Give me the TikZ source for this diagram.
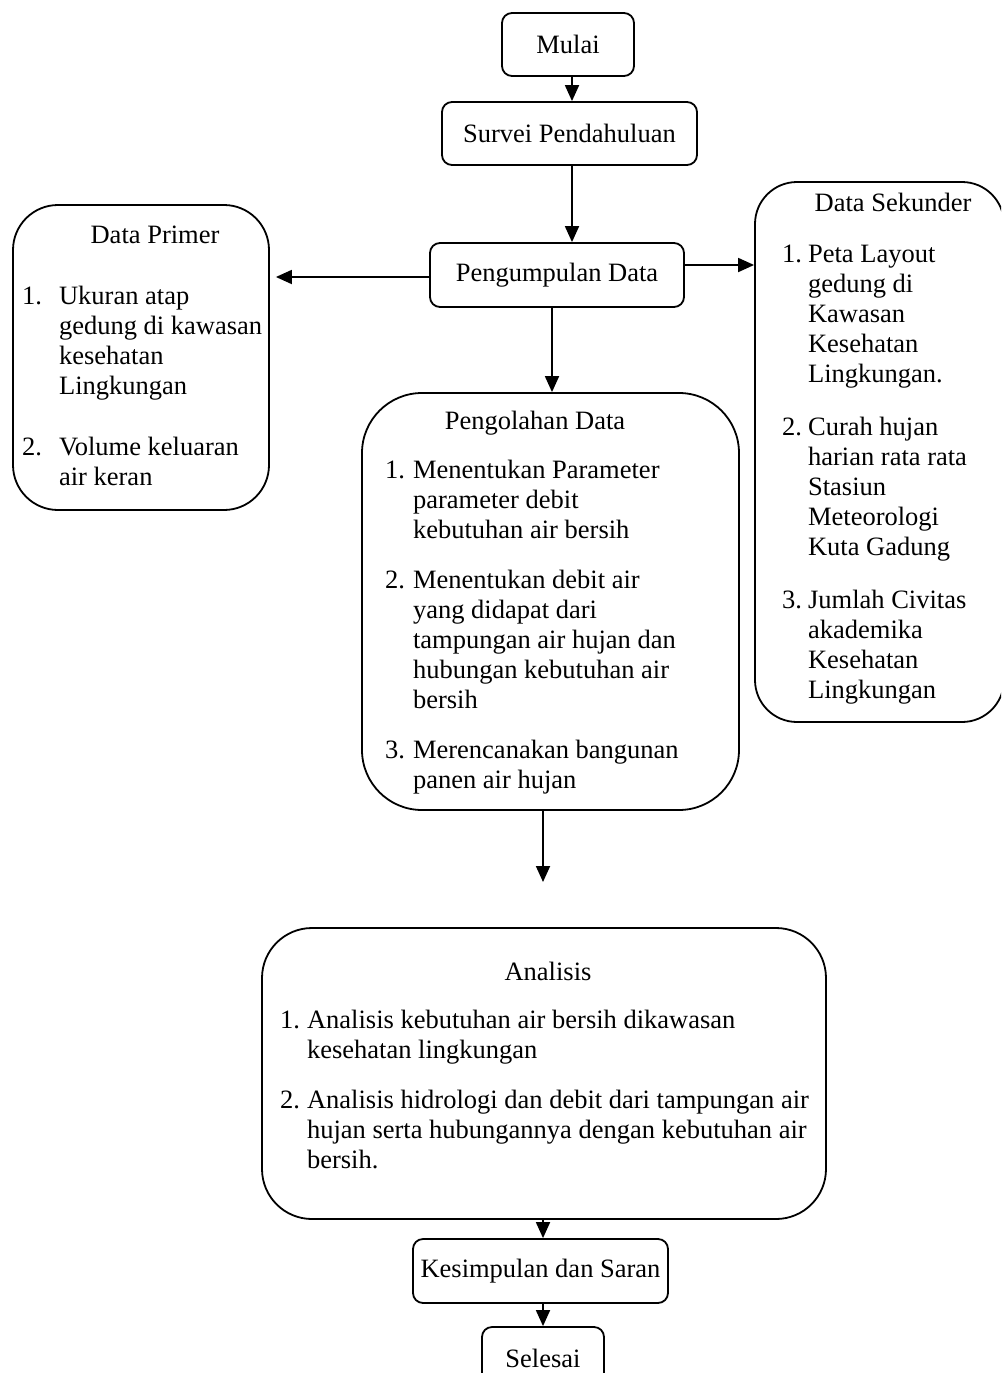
\documentclass[tikz,border=0pt]{standalone}
\usepackage{fontspec}
\setmainfont{Liberation Serif}
\usetikzlibrary{arrows.meta}
\tikzset{
  box/.style={draw, line width=1.8pt, inner sep=0pt, rounded corners=10pt,
    font=\fontsize{26.5}{30}\selectfont},
  bigbox/.style={draw, line width=1.8pt, inner sep=0pt},
  txt/.style={inner sep=0pt, font=\fontsize{26.5}{30}\selectfont},
  arr/.style={line width=1.8pt, -{Triangle[length=16pt,width=14pt]}}
}
\begin{document}
\begin{tikzpicture}[x=1pt,y=-1pt]
\useasboundingbox (0,0) rectangle (1001,1373);
\clip (0,0) rectangle (1001,1373);

% small boxes
\node[box, minimum width=132pt, minimum height=63pt] (mulai) at (568,44.5) {Mulai};
\node[box, minimum width=255pt, minimum height=63pt] (survei) at (569.5,133.5) {Survei Pendahuluan};
\node[box, minimum width=254pt, minimum height=64pt] (peng) at (557,275) {Pengumpulan Data};
\node[box, minimum width=255pt, minimum height=64pt] (kes) at (540.5,1271) {Kesimpulan dan Saran};
\node[box, minimum width=122pt, minimum height=63pt] (sel) at (543,1358.5) {Selesai};

% big boxes
\node[bigbox, rounded corners=45pt, minimum width=256pt, minimum height=305pt] (prim) at (141,357.5) {};
\node[bigbox, rounded corners=42pt, minimum width=249pt, minimum height=540pt] (sek) at (879.5,452) {};
\node[bigbox, rounded corners=60pt, minimum width=377pt, minimum height=417pt] (olah) at (550.5,601.5) {};
\node[bigbox, rounded corners=50pt, minimum width=564pt, minimum height=291pt] (anal) at (544,1073.5) {};

% titles
\node[txt, anchor=base] (primT) at (155,243) {Data Primer};
\node[txt, anchor=base] (sekT) at (893,211) {Data Sekunder};
\node[txt, anchor=base] (olahT) at (535,429) {Pengolahan Data};
\node[txt, anchor=base] (analT) at (548,980) {Analisis};

% lists
\node[txt, anchor=base west] (primL) at (22,304) {\begin{tabular}[t]{@{}l@{\hspace{17pt}}l@{}}
1. & Ukuran atap\\
 & gedung di kawasan\\
 & kesehatan\\
 & Lingkungan\\[31pt]
2. & Volume keluaran\\
 & air keran
\end{tabular}};

\node[txt, anchor=base west] (sekL) at (782,262) {\begin{tabular}[t]{@{}l@{\hspace{6pt}}l@{}}
1. & Peta Layout\\
 & gedung di\\
 & Kawasan\\
 & Kesehatan\\
 & Lingkungan.\\[23pt]
2. & Curah hujan\\
 & harian rata rata\\
 & Stasiun\\
 & Meteorologi\\
 & Kuta Gadung\\[23pt]
3. & Jumlah Civitas\\
 & akademika\\
 & Kesehatan\\
 & Lingkungan
\end{tabular}};

\node[txt, anchor=base west] (olahL) at (385,478) {\begin{tabular}[t]{@{}l@{\hspace{8pt}}l@{}}
1. & Menentukan Parameter\\
 & parameter debit\\
 & kebutuhan air bersih\\[20pt]
2. & Menentukan debit air\\
 & yang didapat dari\\
 & tampungan air hujan dan\\
 & hubungan kebutuhan air\\
 & bersih\\[20pt]
3. & Merencanakan bangunan\\
 & panen air hujan
\end{tabular}};

\node[txt, anchor=base west] (analL) at (280,1028) {\begin{tabular}[t]{@{}l@{\hspace{7pt}}l@{}}
1. & Analisis kebutuhan air bersih dikawasan\\
 & kesehatan lingkungan\\[20pt]
2. & Analisis hidrologi dan debit dari tampungan air\\
 & hujan serta hubungannya dengan kebutuhan air\\
 & bersih.
\end{tabular}};

% connectors
\coordinate (c1) at (543,882);
\draw[arr] ([xshift=4pt]mulai.south) -- ([xshift=4pt]mulai.south |- survei.north);
\draw[arr] ([xshift=2.5pt]survei.south) -- ([xshift=2.5pt]survei.south |- peng.north);
\draw[arr, shorten >=6pt] ([yshift=-2pt]peng.west) -- ([yshift=-2pt]peng.west -| prim.east);
\draw[arr] ([yshift=10pt]peng.east) -- ([yshift=10pt]peng.east -| sek.west);
\draw[arr] ([xshift=-5pt]peng.south) -- ([xshift=-5pt]peng.south |- olah.north);
\draw[arr] (olah.south -| c1) -- (c1);
\draw[arr] ([xshift=-1pt]anal.south) -- ([xshift=-1pt]anal.south |- kes.north);
\draw[arr] ([xshift=2.5pt]kes.south) -- ([xshift=2.5pt]kes.south |- sel.north);
\end{tikzpicture}
\end{document}
